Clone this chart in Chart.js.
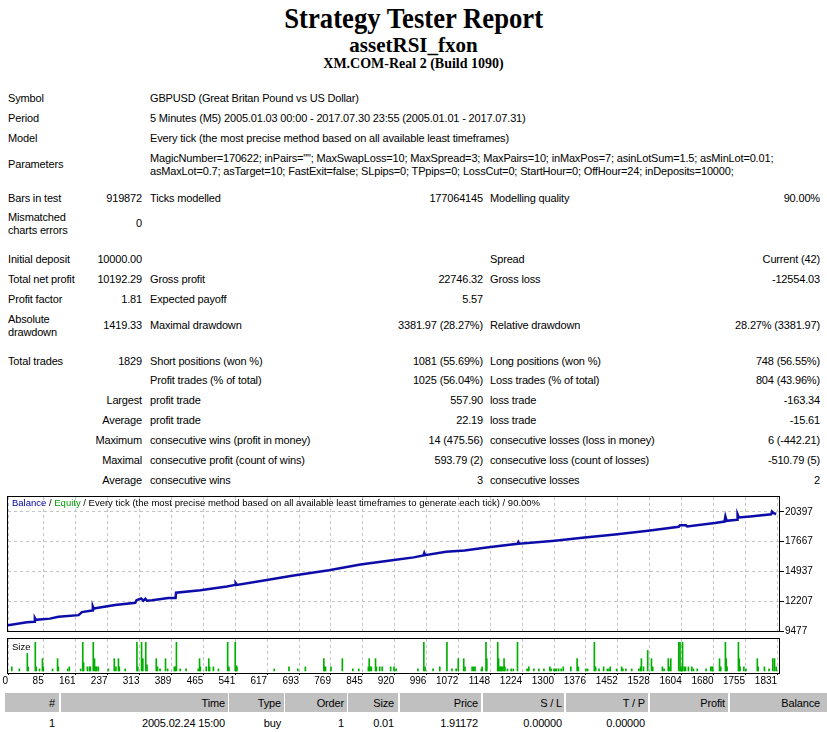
<!DOCTYPE html>
<html><head><meta charset="utf-8">
<script src="https://cdn.jsdelivr.net/npm/chart.js@4.4.0/dist/chart.umd.min.js"></script>
<style>
html,body{margin:0;padding:0;background:#fff;}
body{width:827px;height:732px;position:relative;overflow:hidden;font-family:"Liberation Sans",Arial,sans-serif;font-size:11px;color:#000;}
.t{position:absolute;white-space:nowrap;line-height:14px;letter-spacing:-0.16px;}
.h{position:absolute;left:0;width:827px;text-align:center;font-family:"Liberation Serif","Times New Roman",serif;font-weight:bold;white-space:nowrap;}
.cell{position:absolute;background:#c0c0c0;top:693px;height:19px;}
canvas{position:absolute;left:0;}
#leg{position:absolute;left:12px;top:496px;font-size:9.5px;line-height:13px;white-space:nowrap;}
</style>
</head>
<body>
<div class="h" style="top:2px;font-size:29px;line-height:32px;"><span style="display:inline-block;transform:scaleX(0.92);">Strategy Tester Report</span></div>
<div class="h" style="top:33px;font-size:21px;line-height:24px;">assetRSI_fxon</div>
<div class="h" style="top:56px;font-size:14px;line-height:16px;">XM.COM-Real 2 (Build 1090)</div>

<div class="cell" style="left:5px;width:54px;"></div>
<div class="cell" style="left:61px;width:167px;"></div>
<div class="cell" style="left:229px;width:55px;"></div>
<div class="cell" style="left:285px;width:62px;"></div>
<div class="cell" style="left:348px;width:50px;"></div>
<div class="cell" style="left:400px;width:81px;"></div>
<div class="cell" style="left:483px;width:81px;"></div>
<div class="cell" style="left:566px;width:82px;"></div>
<div class="cell" style="left:650px;width:78px;"></div>
<div class="cell" style="left:730px;width:97px;"></div>

<canvas id="bal" width="827" height="148" style="top:490px;"></canvas>
<canvas id="siz" width="827" height="54" style="top:638px;"></canvas>
<div id="leg"><span style="color:#0000a0">Balance</span> / <span style="color:#00a000">Equity</span> / Every tick (the most precise method based on all available least timeframes to generate each tick) / 90.00%</div>

<script>
// ---- chart data ----
const balanceTrades = [0,45,63,64,66,100,120,168,176,200,202,204,211,255,303,306,317,322,327,331,343,382,399,400,458,521,541,542,545,609,680,764,839,919,966,989,991,993,1043,1087,1139,1213,1215,1217,1302,1373,1445,1524,1597,1600,1614,1617,1683,1706,1708,1711,1736,1737,1740,1767,1817,1819,1823,1829];
const balanceValues = [10000,10270,10330,10650,10500,10610,10780,10930,11210,11350,11720,11520,11580,11860,12060,12290,12460,12250,12420,12250,12290,12490,12500,12980,13200,13550,13700,13870,13700,14110,14570,15050,15560,15990,16220,16390,16620,16420,16730,16840,17130,17470,17620,17470,17750,18030,18320,18660,19030,19160,19160,19060,19370,19500,19970,19570,19670,20170,19880,19970,20170,20420,20270,20192.29];

const sizeTrades = [9,27,46,48,65,67,75,82,84,106,118,120,142,146,173,178,180,189,194,196,203,206,209,211,215,239,253,257,263,265,279,307,309,318,321,328,331,353,356,362,375,380,396,398,401,410,424,453,456,458,472,478,480,489,501,523,526,541,544,545,634,669,690,708,752,754,756,769,796,821,835,858,860,862,865,875,877,885,891,911,919,924,976,990,993,1012,1028,1045,1057,1067,1072,1085,1088,1105,1109,1112,1127,1129,1138,1140,1166,1168,1171,1173,1175,1178,1181,1183,1189,1198,1203,1213,1236,1240,1252,1264,1276,1290,1293,1300,1303,1306,1311,1317,1322,1340,1355,1358,1376,1380,1396,1399,1407,1418,1427,1431,1434,1449,1461,1464,1471,1485,1502,1506,1508,1513,1523,1532,1535,1558,1562,1572,1574,1578,1597,1600,1602,1604,1606,1610,1613,1620,1628,1632,1641,1662,1673,1676,1678,1694,1697,1708,1710,1712,1739,1741,1743,1752,1757,1784,1786,1801,1812,1821,1825,1829];
const sizeLots = [0.02,0.01,0.085,0.02,0.14,0.02,0.01,0.06,0.02,0.01,0.06,0.02,0.01,0.02,0.01,0.14,0.04,0.02,0.02,0.02,0.14,0.06,0.02,0.02,0.02,0.01,0.06,0.02,0.06,0.02,0.01,0.14,0.02,0.14,0.06,0.14,0.03,0.06,0.02,0.01,0.06,0.01,0.02,0.02,0.14,0.01,0.01,0.01,0.06,0.02,0.02,0.06,0.02,0.02,0.01,0.14,0.02,0.14,0.025,0.02,0.01,0.02,0.01,0.02,0.06,0.02,0.02,0.02,0.06,0.01,0.01,0.02,0.06,0.02,0.02,0.06,0.02,0.02,0.02,0.02,0.02,0.01,0.01,0.14,0.02,0.01,0.02,0.14,0.01,0.01,0.06,0.06,0.02,0.02,0.02,0.02,0.01,0.02,0.14,0.06,0.14,0.06,0.02,0.02,0.02,0.02,0.06,0.02,0.01,0.01,0.01,0.14,0.01,0.02,0.01,0.01,0.01,0.02,0.01,0.01,0.01,0.01,0.01,0.01,0.02,0.02,0.06,0.02,0.01,0.01,0.14,0.02,0.01,0.02,0.01,0.01,0.02,0.01,0.02,0.01,0.01,0.01,0.01,0.02,0.06,0.02,0.1,0.06,0.02,0.02,0.01,0.06,0.02,0.06,0.14,0.14,0.02,0.02,0.14,0.02,0.02,0.02,0.02,0.01,0.01,0.01,0.02,0.02,0.02,0.06,0.02,0.14,0.06,0.02,0.14,0.06,0.02,0.02,0.01,0.06,0.02,0.02,0.01,0.06,0.06,0.02];

const yTickValues = [9477,12207,14937,17667,20397];
const xTickValues = [0,85,161,237,313,389,465,541,617,693,769,845,920,996,1072,1148,1224,1300,1376,1452,1528,1604,1680,1755,1831];
const xTickLabels = xTickValues.map(String);

// ---- report text ----
const rows = [
 [98,[[8,'Symbol'],[150,'GBPUSD (Great Britan Pound vs US Dollar)']]],
 [118,[[8,'Period'],[150,'5 Minutes (M5) 2005.01.03 00:00 - 2017.07.30 23:55 (2005.01.01 - 2017.07.31)']]],
 [138,[[8,'Model'],[150,'Every tick (the most precise method based on all available least timeframes)']]],
 [164,[[8,'Parameters']]],
 [158,[[150,'MagicNumber=170622; inPairs=""; MaxSwapLoss=10; MaxSpread=3; MaxPairs=10; inMaxPos=7; asinLotSum=1.5; asMinLot=0.01;']]],
 [171,[[150,'asMaxLot=0.7; asTarget=10; FastExit=false; SLpips=0; TPpips=0; LossCut=0; StartHour=0; OffHour=24; inDeposits=10000;']]],
 [198,[[8,'Bars in test'],[-142,'919872'],[150,'Ticks modelled'],[-483,'177064145'],[490,'Modelling quality'],[-820,'90.00%']]],
 [217,[[8,'Mismatched']]],
 [230,[[8,'charts errors']]],
 [223,[[-142,'0']]],
 [259,[[8,'Initial deposit'],[-142,'10000.00'],[490,'Spread'],[-820,'Current (42)']]],
 [279,[[8,'Total net profit'],[-142,'10192.29'],[150,'Gross profit'],[-483,'22746.32'],[490,'Gross loss'],[-820,'-12554.03']]],
 [299,[[8,'Profit factor'],[-142,'1.81'],[150,'Expected payoff'],[-483,'5.57']]],
 [319,[[8,'Absolute']]],
 [332,[[8,'drawdown']]],
 [325,[[-142,'1419.33'],[150,'Maximal drawdown'],[-483,'3381.97 (28.27%)'],[490,'Relative drawdown'],[-820,'28.27% (3381.97)']]],
 [361,[[8,'Total trades'],[-142,'1829'],[150,'Short positions (won %)'],[-483,'1081 (55.69%)'],[490,'Long positions (won %)'],[-820,'748 (56.55%)']]],
 [380,[[150,'Profit trades (% of total)'],[-483,'1025 (56.04%)'],[490,'Loss trades (% of total)'],[-820,'804 (43.96%)']]],
 [400,[[-142,'Largest'],[150,'profit trade'],[-483,'557.90'],[490,'loss trade'],[-820,'-163.34']]],
 [420,[[-142,'Average'],[150,'profit trade'],[-483,'22.19'],[490,'loss trade'],[-820,'-15.61']]],
 [440,[[-142,'Maximum'],[150,'consecutive wins (profit in money)'],[-483,'14 (475.56)'],[490,'consecutive losses (loss in money)'],[-820,'6 (-442.21)']]],
 [460,[[-142,'Maximal'],[150,'consecutive profit (count of wins)'],[-483,'593.79 (2)'],[490,'consecutive loss (count of losses)'],[-820,'-510.79 (5)']]],
 [480,[[-142,'Average'],[150,'consecutive wins'],[-483,'3'],[490,'consecutive losses'],[-820,'2']]],
 [703,[[-55,'#'],[-225,'Time'],[-281,'Type'],[-344,'Order'],[-394,'Size'],[-478,'Price'],[-562,'S / L'],[-645,'T / P'],[-725,'Profit'],[-820,'Balance']]],
 [723,[[-55,'1'],[-225,'2005.02.24 15:00'],[-281,'buy'],[-344,'1'],[-394,'0.01'],[-478,'1.91172'],[-562,'0.00000'],[-645,'0.00000']]]
];
rows.forEach(([y, items]) => items.forEach(([x, s]) => {
  const d = document.createElement('div');
  d.className = 't';
  d.textContent = s;
  if (x < 0) { d.style.right = (827 + x) + 'px'; d.style.textAlign = 'right'; }
  else d.style.left = x + 'px';
  d.style.top = (y - 7) + 'px';
  document.body.appendChild(d);
}));

// ---- charts ----
const frame = {
  id: 'frame',
  afterDraw(chart) {
    const a = chart.chartArea, c = chart.ctx;
    c.save();
    c.strokeStyle = '#000'; c.lineWidth = 1;
    c.strokeRect(Math.round(a.left) - 0.5, Math.round(a.top) - 0.5, Math.round(a.right - a.left), Math.round(a.bottom - a.top) + 1);
    c.restore();
  }
};
const axisFont = {family: '"Liberation Sans Narrow","Liberation Sans",Arial,sans-serif', size: 10};
const gridStyle = {color: '#c4c4c4', lineWidth: 1};

new Chart(document.getElementById('bal'), {
  type: 'line',
  data: {datasets: [{
    label: 'Balance',
    data: balanceTrades.map((t, i) => ({x: t, y: balanceValues[i]})),
    borderColor: '#0c0ca8', borderWidth: 2.5, pointRadius: 0, tension: 0, fill: false
  }]},
  options: {
    responsive: false, animation: false, devicePixelRatio: 1,
    layout: {padding: {left: 8, top: 4, right: 0, bottom: 1}},
    plugins: {legend: {display: false}, tooltip: {enabled: false}},
    scales: {
      x: {type: 'linear', min: 0, max: 1838,
        afterBuildTicks: s => { s.ticks = xTickValues.map(v => ({value: v})); },
        ticks: {display: false},
        grid: Object.assign({drawTicks: false, tickLength: 0}, gridStyle),
        border: {display: false, dash: [3, 3]},
        afterFit: s => { s.height = 0; }
      },
      y: {position: 'right', min: 9477, max: 21750,
        afterBuildTicks: s => { s.ticks = yTickValues.map(v => ({value: v})); },
        ticks: {font: axisFont, color: '#000', padding: 1, callback: v => String(v)},
        grid: Object.assign({tickLength: 4, tickColor: '#000', tickBorderDash: []}, gridStyle),
        border: {display: false, dash: [3, 3]},
        afterFit: s => { s.width = 47; }
      }
    }
  },
  plugins: [frame]
});

new Chart(document.getElementById('siz'), {
  type: 'bar',
  data: {datasets: [{
    label: 'Size',
    data: sizeTrades.map((t, i) => ({x: t, y: sizeLots[i]})),
    backgroundColor: '#00b000', borderWidth: 0, barThickness: 1, grouped: false
  }]},
  options: {
    responsive: false, animation: false, devicePixelRatio: 1,
    layout: {padding: {left: 8, top: 1, right: 47, bottom: 0}},
    plugins: {legend: {display: false}, tooltip: {enabled: false},
      title: {display: false}},
    scales: {
      x: {type: 'linear', min: 0, max: 1838, offset: false,
        afterBuildTicks: s => { s.ticks = xTickValues.map(v => ({value: v})); },
        ticks: {font: axisFont, color: '#000', padding: 0, align: 'end', maxRotation: 0, autoSkip: false,
          callback: (v, i) => xTickLabels[i]},
        grid: Object.assign({offset: false, tickLength: 2, tickColor: '#000', tickBorderDash: []}, gridStyle),
        border: {display: false, dash: [3, 3]},
        afterFit: s => { s.height = 19; }
      },
      y: {display: false, min: -0.01, max: 0.156}
    }
  },
  plugins: [frame, {
    id: 'sizeLabel',
    afterDraw(chart) {
      const c = chart.ctx, a = chart.chartArea;
      c.save(); c.fillStyle = '#000'; c.font = '9.5px "Liberation Sans", Arial, sans-serif';
      c.textBaseline = 'middle'; c.fillText('Size', a.left + 4, a.top + 8); c.restore();
    }
  }]
});
</script>
</body></html>
